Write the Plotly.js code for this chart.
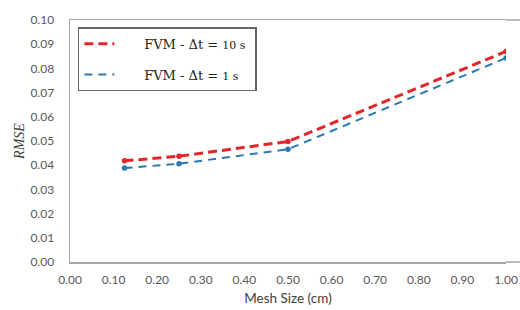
<!DOCTYPE html>
<html>
<head>
<meta charset="utf-8">
<script src="https://cdn.plot.ly/plotly-3.0.1.min.js"></script>
<style>html,body{margin:0;padding:0;background:#fff}#chart{width:520px;height:310px}</style>
</head>
<body>
<div id="chart"></div>
<script>
const meshSize = [0.125, 0.25, 0.5, 1.0];
const rmseDt10 = [0.0418, 0.0437, 0.0498, 0.0870];
const rmseDt1 = [0.0388, 0.0406, 0.0466, 0.0843];
const seriesNames = ["\u00a0\u00a0\u00a0\u00a0\u00a0\u00a0FVM - Δt = <span style='font-size:11px'>10 s</span>\u00a0", "\u00a0\u00a0\u00a0\u00a0\u00a0\u00a0FVM - Δt = <span style='font-size:11px'>1 s</span>"];
const xTicks = [0, 0.1, 0.2, 0.3, 0.4, 0.5, 0.6, 0.7, 0.8, 0.9, 1.0];
const yTicks = [0, 0.01, 0.02, 0.03, 0.04, 0.05, 0.06, 0.07, 0.08, 0.09, 0.10];

const red = '#e3262b', blue = '#2b78b5';
const traces = [
  {x: meshSize, y: rmseDt10, name: seriesNames[0], mode: 'lines', legendgroup: 'a',
   line: {color: red, width: 3, dash: '9px,5px'}},
  {x: meshSize, y: rmseDt1, name: seriesNames[1], mode: 'lines', legendgroup: 'b',
   line: {color: blue, width: 2, dash: '8px,6px'}},
  {x: meshSize, y: rmseDt10, mode: 'markers', showlegend: false, marker: {color: red, size: 5.5}},
  {x: meshSize, y: rmseDt1, mode: 'markers', showlegend: false, marker: {color: blue, size: 5.5}}
];

const frameLine = {color: '#a6a6a6', width: 1.5};
const layout = {
  width: 520, height: 310,
  margin: {l: 70, r: 14, t: 20, b: 48},
  paper_bgcolor: '#fff', plot_bgcolor: '#fff',
  showlegend: true,
  legend: {x: 0.018, y: 0.97, xanchor: 'left', yanchor: 'top', bgcolor: '#fff',
    bordercolor: '#666', borderwidth: 1.5, tracegroupgap: 11,
    font: {family: 'DejaVu Serif, serif', size: 13, color: '#222'}},
  xaxis: {range: [0, 1.0], tickvals: xTicks, tickformat: '.2f', showgrid: false, zeroline: false,
    showline: true, mirror: true, linecolor: '#a6a6a6', linewidth: 1.5, ticks: '',
    ticklabelstandoff: 6, ticklabeloverflow: 'allow',
    tickfont: {family: 'Lato, sans-serif', size: 12, color: '#595959'},
    title: {text: 'Mesh Size (cm)', standoff: 7, font: {family: 'Lato, sans-serif', size: 13.5, color: '#404040'}}},
  yaxis: {range: [0, 0.10], tickvals: yTicks, tickformat: '.2f', showgrid: false, zeroline: false,
    showline: true, linecolor: '#a6a6a6', linewidth: 1.5, ticks: '',
    ticklabelstandoff: 12,
    tickfont: {family: 'Lato, sans-serif', size: 12, color: '#595959'},
    title: {text: 'RMSE', standoff: 2, font: {family: 'Liberation Serif, serif', size: 14, color: '#404040', style: 'italic'}}},
  shapes: [
    {type: 'line', xref: 'paper', yref: 'paper', x0: 1, x1: 1.04, y0: 1, y1: 1, line: frameLine},
    {type: 'line', xref: 'paper', yref: 'paper', x0: 1, x1: 1.04, y0: 0, y1: 0, line: frameLine}
  ]
};

Plotly.newPlot('chart', traces, layout, {displayModeBar: false, staticPlot: true});
</script>
</body>
</html>
